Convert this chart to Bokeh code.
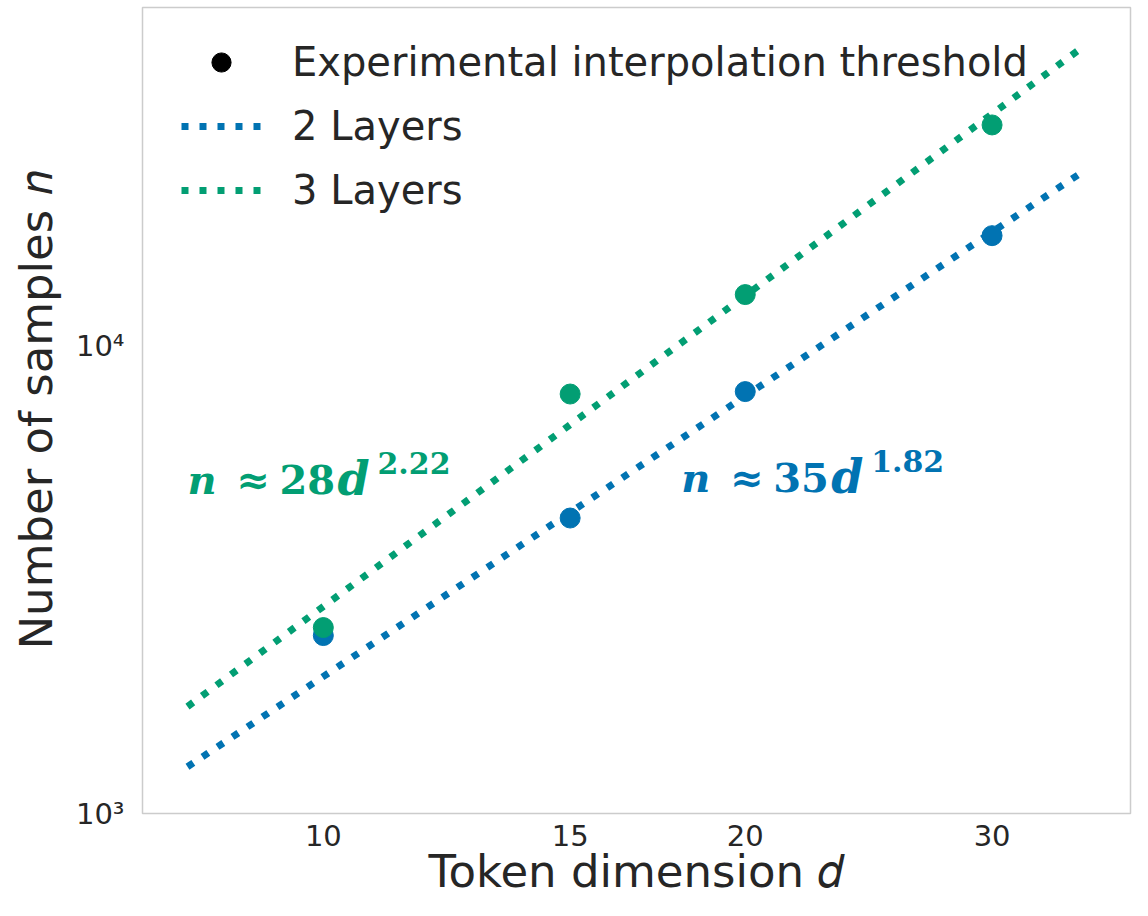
from bokeh.plotting import figure
from bokeh.models import (Range1d, FixedTicker, Legend, LegendItem, Label,
                          ColumnDataSource)
from bokeh.embed import file_html
from bokeh.resources import INLINE

# ---- data ----
dims = [10, 15, 20, 30]
thr_2layers = [2404, 4291, 8003, 17260]
thr_3layers = [2501, 7907, 12910, 29790]

fit_d = [8, 35]
fit_2layers = [1259, 23900]
fit_3layers = [1694, 44240]

x_ticks = [10, 15, 20, 30]
y_ticks = [1000, 10000]
y_tick_labels = ["10\u00b3", "10\u2074"]

BLUE = "#0173B2"
GREEN = "#029E73"
TXT = "#262626"

p = figure(width=1132, height=900, x_axis_type="log", y_axis_type="log",
           x_range=Range1d(7.43, 37.66), y_range=Range1d(1000, 53150),
           output_backend="svg", toolbar_location=None,
           min_border_left=142, min_border_right=2, min_border_top=7,
           min_border_bottom=0)

p.background_fill_color = "white"
p.border_fill_color = "white"
p.outline_line_color = "#cccccc"
p.outline_line_width = 1.5
p.xgrid.visible = False
p.ygrid.visible = False

# fit lines
l2 = p.line(fit_d, fit_2layers, line_color=BLUE, line_width=7, line_dash="7 11")
l3 = p.line(fit_d, fit_3layers, line_color=GREEN, line_width=7, line_dash="7 11")

# experimental points
p.scatter(dims, thr_2layers, size=20, fill_color=BLUE, line_color=BLUE)
p.scatter(dims, thr_3layers, size=20, fill_color=GREEN, line_color=GREEN)

# legend-only marker (its single point lies outside the visible ranges)
dummy = p.scatter(x="x", y="y", source=ColumnDataSource(dict(x=[1], y=[1])),
                  size=20, fill_color="black", line_color="black")

legend = Legend(items=[
    LegendItem(label="Experimental interpolation threshold", renderers=[dummy]),
    LegendItem(label="2 Layers", renderers=[l2]),
    LegendItem(label="3 Layers", renderers=[l3]),
], location=(39, 599), margin=0, padding=0, spacing=16,
    glyph_width=80, glyph_height=48, label_height=48, label_standoff=31,
    border_line_color=None, background_fill_alpha=0,
    label_text_font="DejaVu Sans", label_text_font_size="40px",
    label_text_color=TXT)
p.add_layout(legend)

# axes
for ax in (p.xaxis[0], p.yaxis[0]):
    ax.axis_line_color = None
    ax.major_tick_line_color = None
    ax.minor_tick_line_color = None
    ax.major_tick_out = 0
    ax.major_tick_in = 0
    ax.minor_tick_out = 0
    ax.minor_tick_in = 0
    ax.major_label_text_font = "DejaVu Sans"
    ax.major_label_text_color = TXT
    ax.major_label_text_font_size = "29px"
    ax.axis_label_text_font = "DejaVu Sans"
    ax.axis_label_text_font_style = "normal"
    ax.axis_label_text_color = TXT
    ax.axis_label_text_font_size = "45px"

p.xaxis[0].ticker = FixedTicker(ticks=x_ticks, minor_ticks=[])
p.xaxis[0].major_label_overrides = {t: str(t) for t in x_ticks}
p.yaxis[0].ticker = FixedTicker(ticks=y_ticks, minor_ticks=[])
p.yaxis[0].major_label_overrides = dict(zip(y_ticks, y_tick_labels))

p.xaxis[0].axis_label = "Token dimension \U0001D451"
p.yaxis[0].axis_label = "Number of samples \U0001D45B"
p.xaxis[0].major_label_standoff = 11
p.xaxis[0].axis_label_standoff = -4
p.yaxis[0].major_label_standoff = 18
p.yaxis[0].axis_label_standoff = 10

# annotations (formula labels)
def formula(x, y, coef, expo, color):
    common = dict(x=x, y=y, text_color=color, text_font="DejaVu Serif",
                  text_baseline="alphabetic")
    p.add_layout(Label(text="n", text_font_style="bold italic",
                       text_font_size="40px", **common))
    p.add_layout(Label(text="\u2248", x_offset=49, text_font_style="bold",
                       text_font_size="40px", **common))
    p.add_layout(Label(text=coef, x_offset=92, text_font_style="bold",
                       text_font_size="40px", **common))
    p.add_layout(Label(text="d", x_offset=150, text_font_style="bold italic",
                       text_font_size="46px", **common))
    p.add_layout(Label(text=expo, x_offset=190, y_offset=16,
                       text_font_style="bold", text_font_size="30px", **common))

formula(8, 5200, "28", "2.22", GREEN)
formula(18, 5250, "35", "1.82", BLUE)

open("out.html", "w").write(file_html(p, INLINE))
